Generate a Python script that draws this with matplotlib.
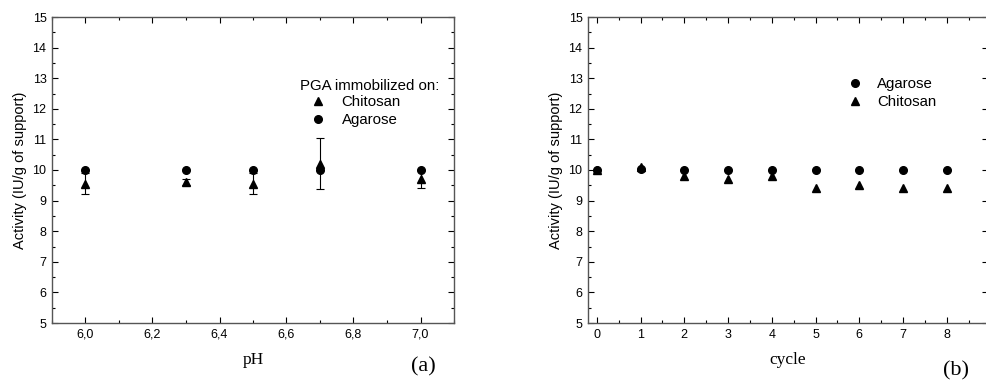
import numpy as np
import matplotlib.pyplot as plt
from matplotlib.ticker import MultipleLocator
from matplotlib.lines import Line2D

# ---- data ----
ph = [6.0, 6.3, 6.5, 6.7, 7.0]
ph_agarose = [10.0, 10.0, 10.0, 10.0, 10.0]
ph_chitosan = [9.55, 9.6, 9.55, 10.2, 9.7]
ph_chitosan_err = [0.35, 0.1, 0.35, 0.83, 0.3]

cycle = [0, 1, 2, 3, 4, 5, 6, 7, 8]
cyc_agarose = [10.0, 10.02, 10.0, 10.0, 10.0, 10.0, 10.0, 10.0, 10.0]
cyc_chitosan = [10.0, 10.1, 9.8, 9.7, 9.8, 9.4, 9.5, 9.4, 9.4]

sans = 'Liberation Sans'
serif = 'Liberation Serif'
plt.rcParams['font.family'] = sans

W, H = 986, 383
fig = plt.figure(figsize=(W / 100, H / 100), dpi=100)


def px_axes(l, t, r, b):
    return fig.add_axes([l / W, 1 - b / H, (r - l) / W, (b - t) / H])


def fig_xy(x, y):
    return (x / W, 1 - y / H)


def style(ax):
    for s in ax.spines.values():
        s.set_color('#555555')
        s.set_linewidth(1.0)
    ax.tick_params(which='both', direction='in', top=True, right=True,
                   labelsize=9, colors='black', width=0.8, pad=4)
    ax.tick_params(which='major', length=4)
    ax.tick_params(which='minor', length=2)
    ax.set_ylim(5, 15)
    ax.yaxis.set_major_locator(MultipleLocator(1))
    ax.yaxis.set_minor_locator(MultipleLocator(0.5))
    ax.set_ylabel('Activity (IU/g of support)', fontsize=10.5, labelpad=4)


tri = Line2D([], [], ls='none', marker='^', color='black', ms=6)
dot = Line2D([], [], ls='none', marker='o', color='black', ms=5.5)

# ---- (a) ----
ax1 = px_axes(52, 17, 454, 323)
style(ax1)
ax1.set_xlim(5.9, 7.1)
ax1.xaxis.set_major_locator(MultipleLocator(0.2))
ax1.xaxis.set_minor_locator(MultipleLocator(0.1))
ax1.xaxis.set_major_formatter(
    plt.FuncFormatter(lambda v, p: f'{v:.1f}'.replace('.', ',')))
ax1.errorbar(ph, ph_chitosan, yerr=ph_chitosan_err, fmt='^', color='black',
             ms=6, capsize=3, elinewidth=0.8, capthick=0.8)
ax1.plot(ph, ph_agarose, 'o', color='black', ms=5.5)
ax1.set_xlabel('pH', fontsize=12.5, family=serif, labelpad=8)
fig.text(*fig_xy(370, 86), 'PGA immobilized on:', fontsize=10.8,
         ha='center', va='center')
ax1.legend([tri, dot], ['Chitosan', 'Agarose'], frameon=False, fontsize=10.8,
           loc='upper left', bbox_to_anchor=fig_xy(307, 95),
           bbox_transform=fig.transFigure, handlelength=1.5,
           handletextpad=0.8, labelspacing=0.25, borderaxespad=0,
           borderpad=0)
fig.text(*fig_xy(423, 367), '(a)', family=serif, fontsize=16,
         ha='center', va='center')

# ---- (b) ----
# right edge sits just past the image border, like in the scan
ax2 = px_axes(588, 17, 988, 323)
style(ax2)
ax2.tick_params(axis='y', which='minor', right=False)
ax2.set_xlim(-0.2, 8.94)
ax2.xaxis.set_major_locator(MultipleLocator(1))
ax2.xaxis.set_minor_locator(MultipleLocator(0.5))
ax2.plot(cycle, cyc_agarose, 'o', color='black', ms=5.5)
ax2.plot(cycle, cyc_chitosan, '^', color='black', ms=6)
ax2.set_xlabel('cycle', fontsize=12.5, family=serif, labelpad=8)
ax2.legend([dot, tri], ['Agarose', 'Chitosan'], frameon=False, fontsize=10.8,
           loc='upper left', bbox_to_anchor=fig_xy(844, 77),
           bbox_transform=fig.transFigure, handlelength=1.5,
           handletextpad=0.72, labelspacing=0.25, borderaxespad=0,
           borderpad=0)
fig.text(*fig_xy(956, 371), '(b)', family=serif, fontsize=16,
         ha='center', va='center')

fig.savefig('out.png', dpi=100)
